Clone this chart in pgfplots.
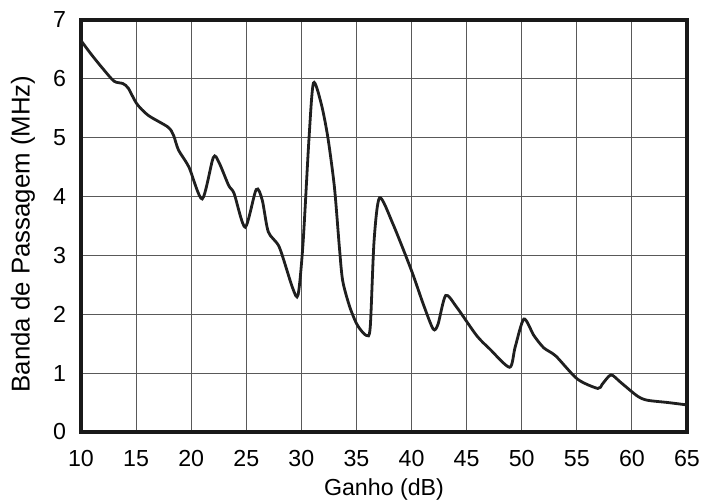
\documentclass[border=0pt]{standalone}
\usepackage{pgfplots}
\pgfplotsset{compat=1.18}
\usepackage{fontspec}
\setmainfont{Liberation Sans}
\begin{document}
\begin{tikzpicture}[x=1pt,y=1pt]
\path[use as bounding box] (-40.5,-35.5) rectangle (310,216);
\begin{axis}[
  at={(0,0)}, anchor=south west,
  width=303pt, height=206pt, scale only axis,
  xmin=10, xmax=65, ymin=0, ymax=7,
  xtick={10,15,...,65}, ytick={0,1,...,7},
  grid=major,
  major grid style={line width=0.5pt, color=black!65},
  axis line style={line width=1.8pt, black!90},
  major tick length=0pt,
  font=\fontsize{11.6}{13}\selectfont,
  /pgf/number format/assume math mode=true,
  xticklabel style={yshift=-5.5pt},
  yticklabel style={xshift=-4pt},
  xlabel={Ganho (dB)},
  ylabel={Banda de Passagem (MHz)},
  xlabel style={at={(axis description cs:0.5,0)}, anchor=center, yshift=-28.5pt},
  ylabel style={at={(axis description cs:0,0.5)}, anchor=center, yshift=29pt, xshift=-4pt, font=\fontsize{12.9}{14}\selectfont},
]
\addplot[smooth, tension=0.45, line width=1.4pt, color=black!88] coordinates {
(10,6.65) (11,6.40) (12,6.17) (13,5.96) (13.8,5.92) (14.3,5.84) (15.05,5.58)
(16.1,5.38) (17.9,5.18) (18.4,5.04) (18.85,4.79) (19.8,4.50) (21.0,3.96)
(22.0,4.66) (22.5,4.59) (23.4,4.19) (23.9,4.05) (24.9,3.48) (25.9,4.12)
(26.45,3.94) (27.0,3.40) (28.0,3.14) (29.2,2.45) (29.7,2.33) (30.15,3.20)
(30.7,5.01) (31.1,5.93) (31.8,5.58) (32.4,5.01) (33.0,4.16) (33.45,3.14)
(33.75,2.57) (34.4,2.12) (35.1,1.81) (35.9,1.64) (36.25,1.78) (36.6,3.25)
(37.1,3.98) (38.3,3.54) (40.0,2.74) (41.05,2.18) (41.96,1.75) (42.4,1.83)
(43.1,2.32) (44.1,2.12) (45.9,1.64) (47.1,1.41) (48.9,1.10) (49.4,1.44)
(50.2,1.92) (51.1,1.64) (52.0,1.43) (53.1,1.29) (55.05,0.90) (56.9,0.74)
(57.3,0.81) (58.1,0.97) (59.0,0.84) (60.5,0.61) (61.4,0.54) (63.3,0.50)
(65,0.46)
};
\end{axis}
\end{tikzpicture}
\end{document}
